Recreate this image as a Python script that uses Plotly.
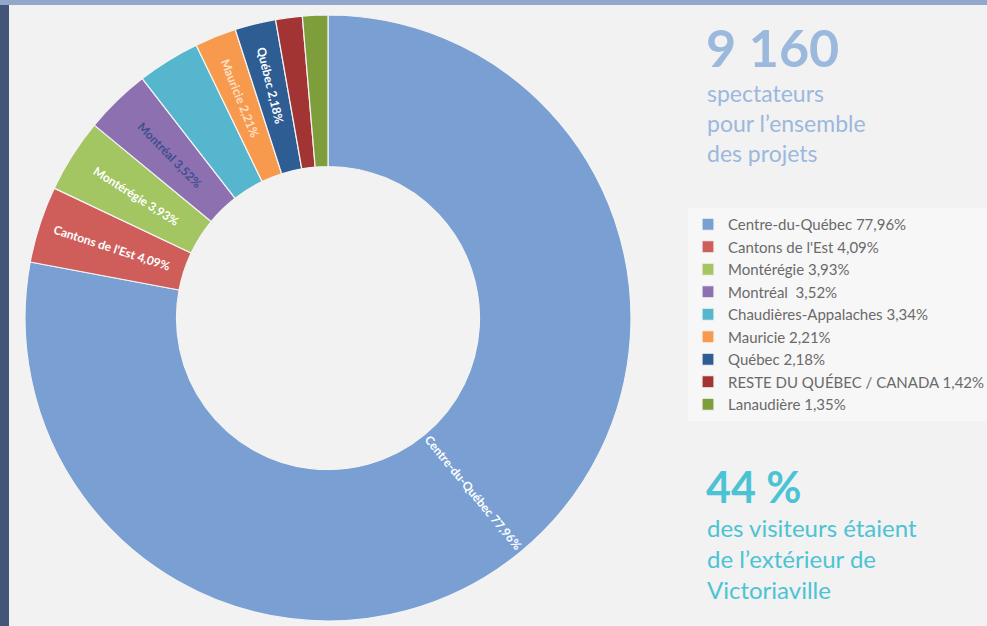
"""Donut : répartition des spectateurs par région."""

import math

import plotly.graph_objects as go

W, H = 987, 626

REGIONS = [
    "Centre-du-Québec",
    "Cantons de l'Est",
    "Montérégie",
    "Montréal ",
    "Chaudières-Appalaches",
    "Mauricie",
    "Québec",
    "RESTE DU QUÉBEC / CANADA",
    "Lanaudière",
]
PARTS = [77.96, 4.09, 3.93, 3.52, 3.34, 2.21, 2.18, 1.42, 1.35]
PCT_TEXT = ["77,96%", "4,09%", "3,93%", "3,52%", "3,34%", "2,21%", "2,18%", "1,42%", "1,35%"]
# étiquettes visibles dans les tranches (la grande est posée à part)
SHOW_LABEL = [False, True, True, True, False, True, True, False, False]

COLORS = ["#7a9fd2", "#cf5e5b", "#a3c562", "#8d70b0", "#55b6cd",
          "#f89a4e", "#2e5d94", "#a33434", "#7d9e3a"]
LABEL_COLORS = ["#ffffff", "#ffffff", "#ffffff", "#3c4f8f", "#ffffff",
                "#fde0c4", "#ffffff", "#ffffff", "#ffffff"]

# géométrie du donut en pixels
CX, CY, R = 328, 318, 303


def px_x(x):
    return x / W


def px_y(y):
    return 1 - y / H


legend_names = [f"{r} {p}" for r, p in zip(REGIONS, PCT_TEXT)]
slice_text = [f"{r.strip()} {p}" if s else "" for r, p, s in zip(REGIONS, PCT_TEXT, SHOW_LABEL)]

fig = go.Figure(
    go.Pie(
        labels=legend_names,
        values=PARTS,
        text=slice_text,
        textinfo="text",
        textposition="inside",
        insidetextorientation="radial",
        textfont=dict(family="Lato", size=12, color=LABEL_COLORS, weight="bold"),
        hole=0.5,
        sort=False,
        direction="clockwise",
        rotation=0,
        marker=dict(colors=COLORS, line=dict(color="#f4f4f4", width=1.2)),
        domain=dict(x=[px_x(CX - R), px_x(CX + R)], y=[px_y(CY + R), px_y(CY - R)]),
    )
)

# étiquette radiale de la grande tranche
theta = PARTS[0] / sum(PARTS) / 2 * 2 * math.pi
r_mid = R * 0.75
fig.add_annotation(
    text=f"{REGIONS[0]} {PCT_TEXT[0]}",
    x=px_x(CX + r_mid * math.sin(theta)), y=px_y(CY - r_mid * math.cos(theta)),
    xref="paper", yref="paper", xanchor="center", yanchor="middle", showarrow=False,
    textangle=math.degrees(theta) - 90,
    font=dict(family="Lato", size=12, color="#ffffff", weight="bold"),
)

# bandes de la photo en bordure
fig.add_shape(type="rect", xref="paper", yref="paper", x0=0, x1=px_x(9), y0=0, y1=1,
              fillcolor="#44557a", line_width=0, layer="below")
fig.add_shape(type="rect", xref="paper", yref="paper", x0=0, x1=1, y0=px_y(5), y1=1,
              fillcolor="#93a6cc", line_width=0, layer="below")

blue = "#9bb8dd"
teal = "#4cc3d4"
fig.add_annotation(text="<b>9 160</b>", x=px_x(704), y=px_y(14), xref="paper", yref="paper",
                   xanchor="left", yanchor="top", showarrow=False, align="left",
                   font=dict(family="Lato", size=52, color=blue))
fig.add_annotation(text="spectateurs<br>pour l’ensemble<br>des projets", x=px_x(705), y=px_y(77),
                   xref="paper", yref="paper", xanchor="left", yanchor="top", showarrow=False,
                   align="left", font=dict(family="Lato", size=23, color=blue))
fig.add_annotation(text="<b>44 %</b>", x=px_x(704), y=px_y(459), xref="paper", yref="paper",
                   xanchor="left", yanchor="top", showarrow=False, align="left",
                   font=dict(family="Lato", size=43, color=teal))
fig.add_annotation(text="des visiteurs étaient<br>de l’extérieur de<br>Victoriaville", x=px_x(705),
                   y=px_y(511), xref="paper", yref="paper", xanchor="left", yanchor="top",
                   showarrow=False, align="left", font=dict(family="Lato", size=24, color=teal))

fig.update_layout(
    width=W,
    height=H,
    margin=dict(l=0, r=0, t=0, b=0, autoexpand=False),
    paper_bgcolor="#f2f2f2",
    plot_bgcolor="#f2f2f2",
    showlegend=True,
    legend=dict(
        x=px_x(688), y=px_y(208), xanchor="left", yanchor="top",
        bgcolor="#f7f7f7",
        font=dict(family="Lato", size=15, color="#6a6a6a"),
        itemclick=False,
    ),
)

fig.write_html("out.html", config={"displayModeBar": False},
               post_script="document.body.style.margin='0';")
